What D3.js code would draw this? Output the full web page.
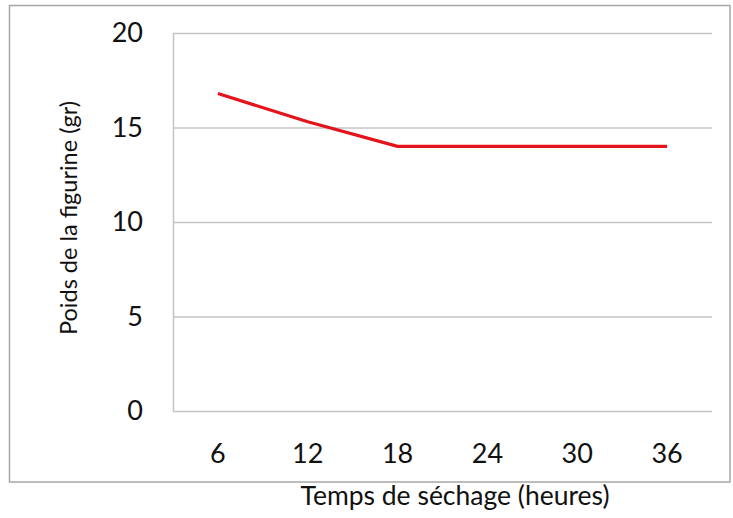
<!DOCTYPE html>
<html><head><meta charset="utf-8">
<script src="https://cdn.jsdelivr.net/npm/d3@7"></script>
<style>body{margin:0;background:#fff}</style>
</head><body>
<script>
const categories = ["6","12","18","24","30","36"];
const values = [16.8, 15.3, 14, 14, 14, 14];
const yTicks = [0,5,10,15,20];
const xTitle = "Temps de séchage (heures)";
const yTitle = "Poids de la figurine (gr)";

(function(){
const W = 733, H = 518;
const font = "Lato, 'Open Sans', sans-serif";
const svg = d3.select("body").append("svg").attr("width", W).attr("height", H);

svg.append("rect").attr("x",9.5).attr("y",5.5).attr("width",720.5).attr("height",476.5)
  .attr("fill","#fff").attr("stroke","#a6a6a6").attr("stroke-width",1.5);

const pl = 173, pr = 712, pt = 33, pb = 411;
const x = d3.scaleBand().domain(categories).range([pl,pr]);
const y = d3.scaleLinear().domain([0,20]).range([pb,pt]);

svg.append("g").selectAll("line").data(yTicks).join("line")
  .attr("x1",pl).attr("x2",pr).attr("y1",d=>y(d)+0.5).attr("y2",d=>y(d)+0.5)
  .attr("stroke","#c4c4c4").attr("stroke-width",1.5);
svg.append("line").attr("x1",pl+0.5).attr("x2",pl+0.5).attr("y1",pt).attr("y2",pb+1)
  .attr("stroke","#c4c4c4").attr("stroke-width",1.5);

const yAxis = svg.append("g").attr("transform",`translate(${pl},0)`)
  .call(d3.axisLeft(y).tickValues(yTicks).tickSize(0).tickPadding(30));
yAxis.select(".domain").remove();
yAxis.selectAll("text").attr("font-family",font).attr("font-size",27).attr("fill","#111");

const xAxis = svg.append("g").attr("transform",`translate(0,${pb})`)
  .call(d3.axisBottom(x).tickSize(0).tickPadding(33));
xAxis.select(".domain").remove();
xAxis.selectAll("text").attr("font-family",font).attr("font-size",27).attr("fill","#111");

const line = d3.line().x((d,i)=>x(categories[i])+x.bandwidth()/2).y(d=>y(d));
svg.append("path").datum(values).attr("d",line).attr("fill","none")
  .attr("stroke","#e3141b").attr("stroke-width",3.2).attr("stroke-linejoin","round");

svg.append("text").attr("x",455).attr("y",505).attr("text-anchor","middle")
  .attr("font-family",font).attr("font-size",26.5).attr("fill","#111").text(xTitle);
svg.append("text").attr("transform","translate(77,218) rotate(-90)").attr("text-anchor","middle")
  .attr("font-family",font).attr("font-size",23.5).attr("fill","#111").text(yTitle);
})();
</script>
</body></html>
